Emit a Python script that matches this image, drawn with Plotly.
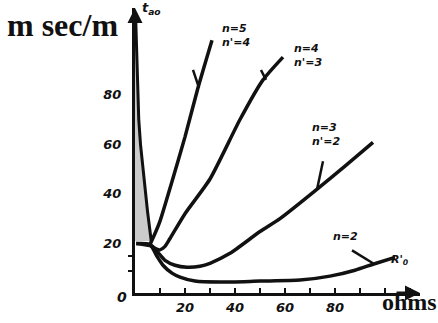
import plotly.graph_objects as go

# ---- data ----
n2_x = [0.5, 6, 8.8, 11.2, 14.8, 18, 24, 34, 50, 66, 78, 88, 95.2, 104]
n2_y = [20, 19.6, 14.8, 11.2, 8, 6.4, 4.8, 4.4, 4.8, 5.2, 6.8, 9.2, 11.6, 14.4]

n3_x = [0.5, 6.8, 12, 16, 20.8, 26, 30, 38, 50, 58, 72, 84, 95.2]
n3_y = [20, 18.8, 13.2, 11.2, 10.4, 10.8, 12, 16, 24.8, 30, 41.2, 51.2, 60.8]

n4_x = [6, 8, 10, 12, 14, 20, 30, 42, 51.2, 59.2]
n4_y = [19.6, 18, 17.4, 18.8, 22, 32, 46, 70, 86, 95.2]

n5_x = [6, 8, 10, 14.8, 20, 25.2, 30.8]
n5_y = [19.6, 24, 29, 45, 63, 82.8, 102]

spike_x = [0.3, 0.8, 1.5, 2.2, 3.5, 5, 6.5]
spike_y = [110, 90, 70, 60, 46, 33, 21]

x_tick_vals = [20, 40, 60, 80]
x_tick_text = ["20", "40", "60", "80"]
y_tick_vals = [20, 40, 60, 80]
y_tick_text = ["20", "40", "60", "80"]

labels = [
    ("n=5<br>n'=4", 40.4, 104),
    ("n=4<br>n'=3", 69, 96),
    ("n=3<br>n'=2", 76.5, 64),
    ("n=2", 84, 22.8),
]
# leader ticks: (x_on_curve, y_on_curve, x_end, y_end)
leaders = [
    (25.6, 82.8, 23.2, 90),
    (52.4, 86, 50.4, 90),
    (72.8, 41.8, 75.2, 53.2),
    (95.2, 12, 86.8, 17.2),
]

ink = "#111111"
fig = go.Figure()

fig.add_trace(go.Scatter(x=spike_x, y=spike_y, mode="lines", fill="tozerox",
                         fillcolor="rgba(140,140,140,0.45)",
                         line=dict(color=ink, width=3), hoverinfo="skip"))
for xs, ys in [(n2_x, n2_y), (n3_x, n3_y), (n4_x, n4_y), (n5_x, n5_y)]:
    fig.add_trace(go.Scatter(x=xs, y=ys, mode="lines",
                             line=dict(color=ink, width=3.5, shape="spline", smoothing=0.6),
                             hoverinfo="skip"))

for xa, ya, xb, yb in leaders:
    fig.add_trace(go.Scatter(x=[xa, xb], y=[ya, yb], mode="lines",
                             line=dict(color=ink, width=2.5), hoverinfo="skip"))

tickfont = dict(family="DejaVu Sans", size=13, color=ink, weight="bold", style="italic")

fig.update_layout(
    width=438, height=323,
    margin=dict(l=135, r=18, t=8, b=28),
    paper_bgcolor="white", plot_bgcolor="white",
    showlegend=False,
    xaxis=dict(range=[0, 114], showgrid=False, zeroline=False,
               showline=True, linecolor=ink, linewidth=3,
               ticks="inside", ticklen=5, tickwidth=2, tickcolor=ink,
               tickvals=x_tick_vals, ticktext=x_tick_text, tickfont=tickfont,
               minor=dict(dtick=10, tick0=0, ticks="inside", ticklen=5, tickwidth=2,
                          tickcolor=ink, showgrid=False)),
    yaxis=dict(range=[0, 115], showgrid=False, zeroline=False,
               showline=True, linecolor=ink, linewidth=3,
               ticks="", ticklabelstandoff=8,
               tickvals=y_tick_vals, ticktext=y_tick_text, tickfont=tickfont,
               minor=dict(tickvals=[9, 15], ticks="outside", ticklen=4, tickwidth=2,
                          tickcolor=ink, showgrid=False)),
)

lab_font = dict(family="DejaVu Sans", size=11, color=ink, weight="bold", style="italic")
for text, x, y in labels:
    fig.add_annotation(x=x, y=y, text=text, showarrow=False, font=lab_font,
                       xanchor="center", yanchor="middle", align="left")

# axis arrows
fig.add_annotation(x=114, y=0, ax=104, ay=0, xref="x", yref="y", axref="x", ayref="y",
                   text="", showarrow=True, arrowhead=2, arrowsize=1, arrowwidth=3, arrowcolor=ink)
fig.add_annotation(x=0, y=115, ax=0, ay=106, xref="x", yref="y", axref="x", ayref="y",
                   text="", showarrow=True, arrowhead=2, arrowsize=1, arrowwidth=3, arrowcolor=ink)

# texts
fig.add_annotation(x=0, y=0, text="0", showarrow=False, xanchor="right", yanchor="middle",
                   xshift=-6, yshift=-4, font=dict(family="DejaVu Sans", size=14, color=ink,
                                                   weight="bold", style="italic"))
fig.add_annotation(xref="paper", yref="paper", x=-0.457, y=1.01, text="m sec/m",
                   showarrow=False, xanchor="left", yanchor="top",
                   font=dict(family="Liberation Serif", size=32, color=ink, weight="bold"))
fig.add_annotation(x=1.8, y=115, text="t<sub>ao</sub>", showarrow=False,
                   xanchor="left", yanchor="middle",
                   font=dict(family="DejaVu Sans", size=13, color=ink, weight="bold", style="italic"))
fig.add_annotation(x=106, y=13.5, text="R'<sub>0</sub>", showarrow=False,
                   xanchor="center", yanchor="middle",
                   font=dict(family="DejaVu Sans", size=11, color=ink, weight="bold", style="italic"))
fig.add_annotation(xref="paper", yref="paper", x=0.86, y=0, text="ohms", showarrow=False,
                   xanchor="left", yanchor="middle", yshift=-9,
                   font=dict(family="Liberation Serif", size=24, color=ink, weight="bold"))

fig.write_html("out.html", config={"displayModeBar": False},
               post_script="document.body.style.margin='0';")
